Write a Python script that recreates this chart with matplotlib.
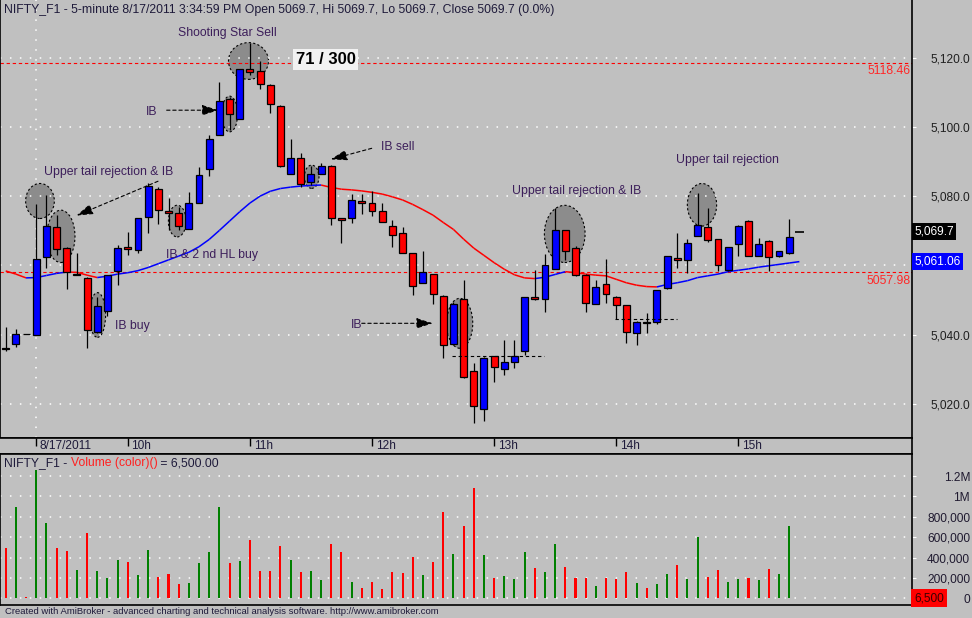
import matplotlib
matplotlib.use('Agg')
import matplotlib.pyplot as plt
import matplotlib.transforms as mtransforms
from matplotlib.patches import Rectangle, Ellipse

plt.rcParams['font.family'] = ['Liberation Sans', 'DejaVu Sans']

# ---------------- data ----------------
opens = [5036.1, 5037.2, 5040.2, 5039.8, 5062.5, 5071.0, 5065.0, 5057.3, 5056.5, 5040.9,
         5046.9, 5058.4, 5065.2, 5064.4, 5073.9, 5082.2, 5075.8, 5075.1, 5070.6, 5078.1,
         5087.7, 5097.5, 5108.1, 5102.4, 5116.7, 5116.0, 5112.2, 5106.1, 5086.5, 5090.9,
         5084.1, 5086.3, 5088.8, 5073.7, 5073.6, 5078.5, 5077.9, 5075.6, 5071.5, 5069.4,
         5063.5, 5054.8, 5057.4, 5051.3, 5037.2, 5050.2, 5029.4, 5018.7, 5033.9, 5030.0,
         5032.0, 5035.3, 5050.9, 5050.2, 5059.1, 5070.2, 5064.9, 5057.2, 5049.0, 5054.5,
         5051.0, 5048.5, 5040.4, 5043.8, 5043.6, 5053.4, 5062.1, 5061.7, 5068.5, 5071.0,
         5067.5, 5058.7, 5066.2, 5072.8, 5062.8, 5067.0, 5062.8, 5063.6, 5069.7]
highs = [5042.1, 5041.6, 5040.2, 5077.7, 5080.3, 5074.5, 5065.3, 5063.5, 5056.7, 5050.9,
         5057.3, 5065.9, 5069.7, 5073.6, 5083.7, 5082.5, 5079.6, 5076.9, 5081.1, 5088.3,
         5097.5, 5112.8, 5108.7, 5116.6, 5124.2, 5119.0, 5112.3, 5106.2, 5096.5, 5092.5,
         5088.7, 5089.6, 5089.0, 5073.8, 5080.6, 5080.6, 5081.4, 5077.9, 5073.1, 5071.0,
         5063.6, 5064.1, 5057.5, 5051.4, 5049.5, 5055.8, 5031.7, 5033.5, 5034.0, 5038.4,
         5038.6, 5051.0, 5058.6, 5063.2, 5076.5, 5070.3, 5065.7, 5057.5, 5055.8, 5061.8,
         5051.2, 5048.6, 5044.0, 5046.4, 5052.9, 5062.7, 5069.3, 5067.6, 5080.8, 5076.5,
         5067.6, 5065.4, 5071.6, 5073.0, 5067.8, 5067.2, 5064.3, 5073.4, 5069.7]
lows = [5035.4, 5036.5, 5040.1, 5039.8, 5059.3, 5063.0, 5053.1, 5057.2, 5036.3, 5040.4,
        5045.4, 5054.3, 5063.0, 5063.5, 5069.5, 5072.1, 5070.2, 5070.2, 5070.6, 5078.0,
        5085.9, 5097.5, 5099.0, 5102.4, 5114.9, 5110.8, 5103.9, 5088.5, 5086.5, 5082.7,
        5083.2, 5086.3, 5071.8, 5066.5, 5072.3, 5074.7, 5074.3, 5072.5, 5065.4, 5063.7,
        5051.6, 5054.8, 5049.0, 5033.2, 5037.0, 5027.5, 5014.6, 5015.2, 5026.4, 5028.5,
        5030.3, 5034.1, 5050.0, 5046.6, 5059.0, 5061.5, 5057.0, 5046.6, 5049.0, 5049.2,
        5044.4, 5037.5, 5036.9, 5040.4, 5043.0, 5053.3, 5059.3, 5057.9, 5068.4, 5066.8,
        5058.4, 5058.5, 5062.8, 5062.8, 5062.8, 5058.4, 5062.5, 5063.4, 5069.7]
closes = [5036.0, 5040.1, 5040.1, 5062.0, 5071.5, 5064.6, 5058.0, 5057.4, 5041.5, 5048.2,
          5057.1, 5064.9, 5064.6, 5073.6, 5082.9, 5075.9, 5075.0, 5071.3, 5077.9, 5086.0,
          5096.6, 5107.4, 5103.6, 5116.6, 5115.7, 5112.5, 5106.5, 5088.7, 5090.9, 5083.4,
          5086.3, 5088.8, 5073.7, 5073.1, 5079.0, 5077.9, 5075.6, 5072.5, 5068.9, 5063.7,
          5054.0, 5058.0, 5051.9, 5036.9, 5049.0, 5027.7, 5019.4, 5033.4, 5030.6, 5032.0,
          5033.9, 5050.9, 5050.2, 5060.0, 5070.2, 5064.3, 5057.2, 5049.1, 5053.8, 5051.8,
          5048.5, 5040.7, 5043.8, 5043.3, 5052.8, 5062.6, 5061.5, 5066.5, 5071.8, 5067.4,
          5060.0, 5065.2, 5071.3, 5062.8, 5066.1, 5062.5, 5064.1, 5068.1, 5069.7]
volumes = [495000, 898000, 16000, 1262000, 741000, 495000, 466000, 279000, 643000, 269000,
           200000, 377000, 357000, 230000, 475000, 210000, 239000, 141000, 151000, 348000,
           456000, 898000, 348000, 367000, 574000, 269000, 269000, 515000, 377000, 259000,
           269000, 180000, 534000, 456000, 161000, 102000, 161000, 92000, 259000, 249000,
           407000, 230000, 357000, 849000, 436000, 711000, 1085000, 426000, 200000, 220000,
           190000, 456000, 298000, 259000, 534000, 308000, 200000, 200000, 121000, 200000,
           190000, 259000, 151000, 102000, 141000, 239000, 328000, 190000, 603000, 210000,
           279000, 161000, 190000, 200000, 180000, 289000, 239000, 711000, 6500]
ma_values = [5058.4, 5057.5, 5056.4, 5056.5, 5057.1, 5057.7, 5058.1, 5058.0, 5057.2, 5056.5,
             5056.9, 5057.5, 5057.9, 5058.5, 5059.4, 5060.5, 5061.6, 5062.7, 5063.8, 5065.4,
             5067.5, 5070.1, 5072.8, 5075.5, 5078.0, 5080.0, 5081.4, 5082.2, 5082.6, 5082.9,
             5083.1, 5083.2, 5082.5, 5082.0, 5081.8, 5081.5, 5081.1, 5080.6, 5079.8, 5078.9,
             5077.6, 5076.1, 5074.5, 5072.4, 5070.4, 5067.6, 5065.0, 5062.9, 5060.8, 5058.9,
             5057.3, 5056.4, 5056.2, 5056.6, 5057.4, 5058.2, 5057.9, 5057.5, 5057.2, 5057.0,
             5056.0, 5055.0, 5054.3, 5053.9, 5053.8, 5054.5, 5055.0, 5055.6, 5056.5, 5057.0,
             5057.5, 5058.2, 5058.6, 5059.0, 5059.5, 5059.9, 5060.3, 5060.7, 5061.1]

time_tick_idx = [3, 12, 24, 36, 48, 60, 72]
time_tick_labels = ['8/17/2011', '10h', '11h', '12h', '13h', '14h', '15h']
price_ticks = [5020, 5040, 5060, 5080, 5100, 5120]
# the 5,060.0 label sits under the blue moving-average value box
price_tick_labels = ['5,020.0', '5,040.0', '', '5,080.0', '5,100.0', '5,120.0']
vol_ticks = [0, 200000, 400000, 600000, 800000, 1000000, 1200000]
vol_tick_labels = ['0', '200,000', '400,000', '600,000', '800,000', '1M', '1.2M']
level_lines = [5118.46, 5057.98]
last_close = 5069.7
last_ma = 5061.06
last_volume_label = '6,500'

# annotations (text, bar index, price)
notes = [
    ("Shooting Star Sell", 21.75, 5127.0),
    ("IB", 14.38, 5104.3),
    ("Upper tail rejection & IB", 10.13, 5087.0),
    ("IB sell", 38.56, 5094.1),
    ("IB & 2 nd HL buy", 20.25, 5063.0),
    ("IB buy", 12.46, 5042.6),
    ("IB", 34.46, 5042.9),
    ("Upper tail rejection & IB", 56.15, 5081.5),
    ("Upper tail rejection", 70.94, 5090.4),
]
# ellipses (center index, center price, width in bars, height in price)
ellipses = [
    (3.37, 5078.6, 2.82, 10.1), (5.42, 5068.4, 2.78, 15.1), (9.02, 5045.7, 1.6, 12.9),
    (16.86, 5072.8, 1.74, 9.15), (22.01, 5103.7, 1.57, 10.3), (23.86, 5119.0, 3.93, 10.6),
    (30.07, 5085.6, 1.44, 6.7), (44.62, 5043.3, 2.56, 14.4), (54.94, 5069.1, 4.0, 16.5),
    (68.43, 5077.5, 2.88, 12.3),
]
# arrows (start idx, start price, tip idx, tip price)
arrows = [
    (15.82, 5104.8, 20.9, 5104.8),
    (14.97, 5084.3, 6.96, 5074.4),
    (35.97, 5093.8, 31.94, 5090.6),
    (34.99, 5043.3, 41.97, 5043.3),
]
# dashed reference segments (idx start, idx end, price)
hsegs = [(43.83, 52.93, 5033.8), (59.88, 65.95, 5044.4)]

# ---------------- figure ----------------
W, H = 972, 618
BG = '#C0C0C0'
TXT = '#1e1a3a'
NOTE = '#3c1e5a'
fig = plt.figure(figsize=(W / 100, H / 100), dpi=100, facecolor=BG)


def px_rect(x0, y0, x1, y1):
    return [x0 / W, 1 - y1 / H, (x1 - x0) / W, (y1 - y0) / H]


ax = fig.add_axes(px_rect(0, 0, 912, 438))
axd = fig.add_axes(px_rect(0, 438, 912, 454))
axv = fig.add_axes(px_rect(0, 454, 912, 605))
XL = (-0.56, 89.07)
for a in (ax, axd, axv):
    a.set_facecolor(BG)
    a.set_xlim(*XL)
    for s in a.spines.values():
        s.set_color('black')
        s.set_linewidth(1.2)

n = len(opens)
idx = list(range(n))

# ---- main price pane ----
ax.set_ylim(5010.2, 5136.6)
ax.spines['top'].set_visible(False)
ax.set_xticks([])
ax.yaxis.tick_right()
ax.set_yticks(price_ticks)
ax.set_yticklabels(price_tick_labels)
ax.tick_params(axis='y', direction='out', length=3, color='white', labelsize=8.6,
               labelcolor='#202020', pad=38.8)
plt.setp(ax.get_yticklabels(), ha='right')
ax.grid(axis='y', color='white', linestyle=(0, (1, 5.5)), linewidth=1.1)
ax.axvline(time_tick_idx[0], color='white', linestyle=(0, (1, 5.5)), linewidth=1.1, zorder=0.5)

for lv in level_lines:
    ax.axhline(lv, color='#FF0000', linestyle=(0, (3, 2.5)), linewidth=0.8, zorder=1.5)
    ax.annotate(f"{lv:.2f}", xy=(0.998, lv), xycoords=('axes fraction', 'data'),
                xytext=(0, -1.8), textcoords='offset points', ha='right', va='top',
                color='#FF2828', fontsize=8.8)

for (cx, cy, w, h) in ellipses:
    ax.add_patch(Ellipse((cx, cy), w, h, facecolor='#8c8c8c', edgecolor='black',
                         linestyle=(0, (2, 2)), linewidth=0.8, zorder=1))

# colored moving average
for i in range(1, n):
    col = '#0000FF' if ma_values[i] > ma_values[i - 1] else '#FF0000'
    ax.plot([i - 1, i], [ma_values[i - 1], ma_values[i]], color=col, linewidth=1.1,
            zorder=2, solid_capstyle='butt')

# candles
bw = 0.68
for i in idx:
    o, h, l, c = opens[i], highs[i], lows[i], closes[i]
    ax.vlines(i, l, h, color='black', linewidth=0.9, zorder=3)
    if abs(c - o) < 0.05:
        ax.hlines(c, i - bw / 2 - 0.08, i + bw / 2 + 0.08, color='black', linewidth=1.2, zorder=4)
    else:
        col = '#0000FF' if c > o else '#FF0000'
        ax.add_patch(Rectangle((i - bw / 2, min(o, c)), bw, abs(c - o), facecolor=col,
                               edgecolor='black', linewidth=0.9, zorder=4))

for (x0, x1, y) in hsegs:
    ax.plot([x0, x1], [y, y], color='black', linestyle=(0, (3, 2.5)), linewidth=0.8, zorder=5)

for (sx, sy, tx, ty) in arrows:
    ax.annotate('', xy=(tx, ty), xytext=(sx, sy),
                arrowprops=dict(arrowstyle='-|>,head_length=1.0,head_width=0.32',
                                color='black', linewidth=0.8, linestyle=(0, (3, 2.5)),
                                shrinkA=0, shrinkB=0, mutation_scale=10), zorder=6)

for (t, x, y) in notes:
    ax.text(x, y, t, ha='center', va='center', fontsize=8.8, color=NOTE, zorder=7)

ax.text(31.43, 5119.5, '71 / 300', ha='center', va='center', fontsize=12, fontweight='bold',
        color='black', zorder=8,
        bbox=dict(boxstyle='square,pad=0.18', facecolor='#F2F2F2', edgecolor='none'))

blend = mtransforms.blended_transform_factory(ax.transAxes, ax.transData)
ax.text(1.0025, last_close, f"{last_close:,.1f}", transform=blend, ha='left', va='center',
        fontsize=8.6, color='white', clip_on=False, zorder=10,
        bbox=dict(boxstyle='square,pad=0.2', facecolor='black', edgecolor='none'))
ax.text(1.0025, last_ma, f"{last_ma:,.2f}", transform=blend, ha='left', va='center',
        fontsize=8.6, color='white', clip_on=False, zorder=10,
        bbox=dict(boxstyle='square,pad=0.2', facecolor='#0000FF', edgecolor='none'))

# ---- date strip ----
axd.set_ylim(0, 1)
axd.set_yticks([])
axd.spines['left'].set_visible(False)
axd.set_xticks(time_tick_idx)
axd.tick_params(axis='x', direction='in', top=True, bottom=False, length=6, width=1,
                color='black', labeltop=False, labelbottom=False)
dblend = mtransforms.blended_transform_factory(axd.transData, axd.transAxes)
for ti, tl in zip(time_tick_idx, time_tick_labels):
    axd.text(ti + 0.36, 0.47, tl, transform=dblend, ha='left', va='center',
             fontsize=8.6, color=TXT)

# ---- volume pane ----
axv.set_ylim(-65900, 1416600)
axv.set_xticks([])
vcols = ['#008000' if closes[i] > opens[i] else '#FF0000' for i in idx]
axv.bar(idx, volumes, width=0.2, color=vcols, linewidth=0, antialiased=False, zorder=3)
axv.yaxis.tick_right()
axv.set_yticks(vol_ticks)
axv.set_yticklabels(vol_tick_labels)
axv.tick_params(axis='y', direction='out', length=3, color='white', labelsize=8.6,
                labelcolor='#201a30', pad=38.8)
plt.setp(axv.get_yticklabels(), ha='right')
axv.grid(axis='y', color='white', linestyle=(0, (1, 5.5)), linewidth=1.1, zorder=0)
vblend = mtransforms.blended_transform_factory(axv.transAxes, axv.transData)
axv.text(1.0025, 0, last_volume_label, transform=vblend, ha='left', va='center',
         fontsize=8.6, color='#3a0000', clip_on=False, zorder=10,
         bbox=dict(boxstyle='square,pad=0.25', facecolor='#FF0000', edgecolor='none'))

# ---- titles ----
fig.text(4 / W, 1 - 10 / H,
         "NIFTY_F1 - 5-minute 8/17/2011 3:34:59 PM Open 5069.7, Hi 5069.7, Lo 5069.7, "
         "Close 5069.7 (0.0%)", ha='left', va='center', fontsize=8.85, color=TXT)

renderer = fig.canvas.get_renderer()


def text_width(s, size):
    t1 = fig.text(0, 0, s + '|', fontsize=size)
    t2 = fig.text(0, 0, '|', fontsize=size)
    w = t1.get_window_extent(renderer).width - t2.get_window_extent(renderer).width
    t1.remove()
    t2.remove()
    return w


parts = [("NIFTY_F1 - ", TXT), ("Volume (color)()", '#FF2020'), (" = 6,500.00", TXT)]
prefix = ''
for s, c in parts:
    xoff = 4.0 + (text_width(prefix, 8.7) if prefix else 0.0)
    fig.text(xoff / W, 1 - 463 / H, s, ha='left', va='center', fontsize=8.7, color=c)
    prefix += s

fig.text(5 / W, 1 - 612 / H,
         "Created with AmiBroker - advanced charting and technical analysis software. "
         "http://www.amibroker.com", ha='left', va='center', fontsize=6.8, color=TXT)

fig.savefig('out.png', dpi=100, facecolor=BG)
